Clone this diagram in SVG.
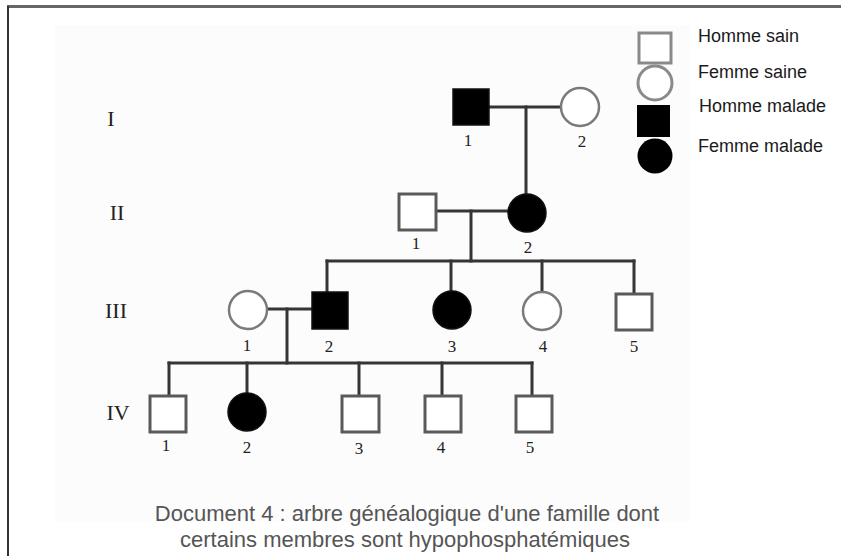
<svg xmlns="http://www.w3.org/2000/svg" width="841" height="556" viewBox="0 0 841 556">
  <style>
    .bg { fill: #ffffff; }
    .panel { fill: #fcfcfc; }
    .line { stroke: #353535; stroke-width: 3; fill: none; stroke-linecap: square; }
    .sq-open { fill: #ffffff; stroke: #5a5a5a; stroke-width: 3; }
    .ci-open { fill: #ffffff; stroke: #7a7a7a; stroke-width: 2.5; }
    .sq-fill { fill: #000000; stroke: #111111; stroke-width: 1.5; }
    .ci-fill { fill: #000000; stroke: #111111; stroke-width: 1.5; }
    .lg-open { fill: #ffffff; stroke: #8a8a8a; stroke-width: 3; }
    .gen { font-family: "Liberation Serif", "Times New Roman", serif; font-size: 22px; fill: #222222; text-anchor: middle; }
    .num { font-family: "Liberation Serif", "Times New Roman", serif; font-size: 17px; fill: #222222; text-anchor: middle; }
    .legend { font-family: "Liberation Sans", Arial, sans-serif; font-size: 18px; fill: #1a1a1a; }
    .caption { font-family: "Liberation Sans", Arial, sans-serif; font-size: 22px; fill: #555555; text-anchor: middle; }
  </style>

  <rect class="bg" x="0" y="0" width="841" height="556"/>
  <rect class="panel" x="55" y="25" width="635" height="497"/>

  <!-- frame: top and left rules -->
  <line x1="7" y1="6.5" x2="841" y2="6.5" stroke="#666666" stroke-width="3"/>
  <line x1="8" y1="6" x2="8" y2="556" stroke="#333333" stroke-width="2"/>

  <!-- generation labels -->
  <g id="generations">
    <text class="gen" x="111" y="126">I</text>
    <text class="gen" x="117" y="220">II</text>
    <text class="gen" x="116" y="318">III</text>
    <text class="gen" x="118" y="420">IV</text>
  </g>

  <!-- connectors -->
  <g id="connectors">
    <!-- I-1 x I-2 -->
    <line class="line" x1="490" y1="107" x2="561" y2="107"/>
    <line class="line" x1="526" y1="107" x2="526" y2="194"/>
    <!-- II-1 x II-2 -->
    <line class="line" x1="437" y1="211" x2="508" y2="211"/>
    <line class="line" x1="471" y1="211" x2="471" y2="261"/>
    <!-- sibship III -->
    <line class="line" x1="327" y1="261" x2="634" y2="261"/>
    <line class="line" x1="327" y1="261" x2="327" y2="292"/>
    <line class="line" x1="451" y1="261" x2="451" y2="291"/>
    <line class="line" x1="542" y1="261" x2="542" y2="292"/>
    <line class="line" x1="634" y1="261" x2="634" y2="293"/>
    <!-- III-1 x III-2 -->
    <line class="line" x1="268" y1="309" x2="312" y2="309"/>
    <line class="line" x1="287" y1="309" x2="287" y2="363"/>
    <!-- sibship IV -->
    <line class="line" x1="169" y1="363" x2="532" y2="363"/>
    <line class="line" x1="169" y1="363" x2="169" y2="395"/>
    <line class="line" x1="247" y1="363" x2="247" y2="393"/>
    <line class="line" x1="359" y1="363" x2="359" y2="395"/>
    <line class="line" x1="442" y1="363" x2="442" y2="395"/>
    <line class="line" x1="532" y1="363" x2="532" y2="395"/>
  </g>

  <!-- Generation I -->
  <g id="I-1">
    <rect class="sq-fill" x="453" y="89" width="36" height="36"/>
    <text class="num" x="468" y="146">1</text>
  </g>
  <g id="I-2">
    <circle class="ci-open" cx="580" cy="107" r="19"/>
    <text class="num" x="582" y="147">2</text>
  </g>

  <!-- Generation II -->
  <g id="II-1">
    <rect class="sq-open" x="399" y="194" width="37" height="36"/>
    <text class="num" x="416" y="249">1</text>
  </g>
  <g id="II-2">
    <circle class="ci-fill" cx="527" cy="213" r="19"/>
    <text class="num" x="528" y="253">2</text>
  </g>

  <!-- Generation III -->
  <g id="III-1">
    <circle class="ci-open" cx="248" cy="310" r="19"/>
    <text class="num" x="247" y="351">1</text>
  </g>
  <g id="III-2">
    <rect class="sq-fill" x="312" y="292" width="36" height="37"/>
    <text class="num" x="329" y="352">2</text>
  </g>
  <g id="III-3">
    <circle class="ci-fill" cx="452" cy="310" r="19"/>
    <text class="num" x="452" y="352">3</text>
  </g>
  <g id="III-4">
    <circle class="ci-open" cx="542" cy="311" r="19"/>
    <text class="num" x="543" y="352">4</text>
  </g>
  <g id="III-5">
    <rect class="sq-open" x="616" y="294" width="36" height="36"/>
    <text class="num" x="634" y="352">5</text>
  </g>

  <!-- Generation IV -->
  <g id="IV-1">
    <rect class="sq-open" x="150" y="396" width="36" height="36"/>
    <text class="num" x="166" y="451">1</text>
  </g>
  <g id="IV-2">
    <circle class="ci-fill" cx="247" cy="412" r="19"/>
    <text class="num" x="247" y="453">2</text>
  </g>
  <g id="IV-3">
    <rect class="sq-open" x="342" y="396" width="37" height="36"/>
    <text class="num" x="359" y="454">3</text>
  </g>
  <g id="IV-4">
    <rect class="sq-open" x="425" y="396" width="36" height="36"/>
    <text class="num" x="441" y="453">4</text>
  </g>
  <g id="IV-5">
    <rect class="sq-open" x="516" y="396" width="36" height="36"/>
    <text class="num" x="530" y="453">5</text>
  </g>

  <!-- Legend -->
  <g id="legend">
    <rect class="lg-open" x="639" y="33" width="32" height="30"/>
    <circle class="lg-open" cx="655" cy="83" r="17"/>
    <rect x="637" y="105" width="33" height="32" fill="#000000"/>
    <circle cx="655" cy="156" r="17.5" fill="#000000"/>
    <text class="legend" x="698" y="42">Homme sain</text>
    <text class="legend" x="698" y="78">Femme saine</text>
    <text class="legend" x="699" y="112">Homme malade</text>
    <text class="legend" x="698" y="152">Femme malade</text>
  </g>

  <!-- Caption -->
  <g id="caption">
    <text class="caption" x="407" y="521">Document 4 : arbre généalogique d'une famille dont</text>
    <text class="caption" x="405" y="547">certains membres sont hypophosphatémiques</text>
  </g>
</svg>
